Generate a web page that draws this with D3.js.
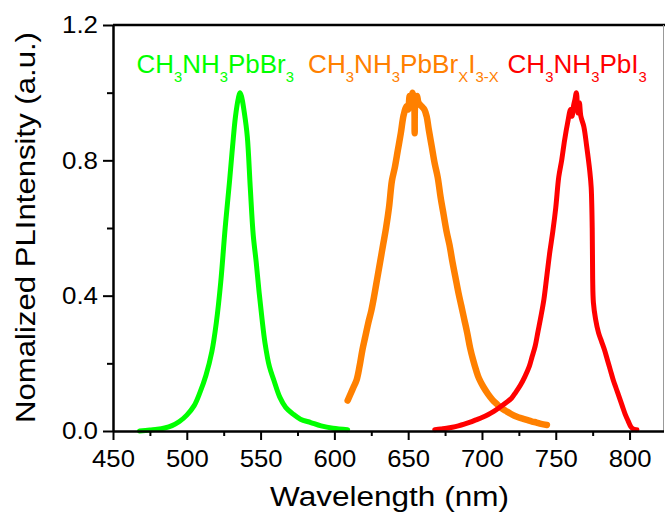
<!DOCTYPE html>
<html>
<head>
<meta charset="utf-8">
<script src="https://cdn.jsdelivr.net/npm/d3@7"></script>
<style>
  body { margin: 0; background: #fff; }
  svg { display: block; }
  text { font-family: "Liberation Sans", Arial, Helvetica, sans-serif; }
</style>
</head>
<body>
<svg id="chart" width="665" height="518"></svg>
<script>
// Normalized photoluminescence spectra of three perovskite films
const xMajorTicks = [450, 500, 550, 600, 650, 700, 750, 800];
const xMinorTicks = [475, 525, 575, 625, 675, 725, 775];
const yMajorTicks = [0, 0.4, 0.8, 1.2];
const yMinorTicks = [0.2, 0.6, 1.0];

// [wavelength (nm), normalized intensity]
const bromideSpectrum = [
  [468,0.0],[475,0.003],[480,0.005],[485,0.009],[490,0.016],[495,0.028],[500,0.047],
  [505,0.075],[509,0.115],[513,0.165],[517,0.235],[520,0.32],[523,0.44],[526,0.60],
  [529,0.74],[531,0.84],[533,0.93],[535,0.985],[536,1.0],[537,0.99],[539,0.94],
  [541,0.87],[543,0.72],[545,0.58],[547,0.50],[549,0.41],[551,0.33],[553,0.26],
  [556,0.19],[559,0.15],[563,0.10],[567,0.07],[572,0.05],[577,0.035],[584,0.025],
  [591,0.015],[599,0.008],[609,0.004]
];
const mixedSpectrum = [
  [609,0.09],[611,0.11],[613,0.13],[615,0.15],[617,0.19],[619,0.24],[621,0.28],
  [623,0.32],[625,0.355],[627,0.40],[629,0.45],[631,0.50],[633,0.55],[635,0.60],
  [637,0.66],[639,0.74],[641,0.78],[643,0.83],[645,0.88],[647,0.935],[649,0.96],
  [650,0.95],[651,0.99],[652,0.97],[653,1.0],[654,0.98],[654.4,0.88],[654.8,0.97],
  [656,0.99],[657,0.97],[659,0.96],[661,0.95],[662.5,0.93],[664,0.89],[666,0.84],
  [668,0.79],[670,0.75],[672,0.69],[674,0.64],[676,0.59],[678,0.55],[680,0.50],
  [682,0.455],[684,0.41],[686,0.37],[688,0.33],[690,0.29],[692,0.245],[694,0.21],
  [696,0.18],[698,0.155],[701,0.13],[704,0.11],[707,0.093],[710,0.08],[713,0.068],
  [716,0.06],[719,0.052],[722,0.045],[725,0.04],[728,0.036],[731,0.032],[734,0.028],
  [737,0.025],[740,0.021],[744,0.018]
];
const iodideSpectrum = [
  [668,0.004],[672,0.006],[676,0.008],[680,0.011],[684,0.015],[688,0.02],[692,0.026],
  [696,0.033],[700,0.04],[704,0.048],[708,0.058],[712,0.07],[716,0.083],[720,0.097],
  [723,0.115],[726,0.135],[729,0.16],[732,0.19],[734,0.22],[736,0.25],[738,0.295],
  [740,0.34],[742,0.39],[744,0.46],[746,0.53],[748,0.59],[750,0.66],[752,0.75],
  [754,0.80],[756,0.86],[758,0.91],[760,0.95],[761,0.93],[762,0.96],[763,0.98],
  [764,1.0],[765,0.94],[766,0.97],[767,0.93],[769,0.90],[771,0.84],[773,0.77],
  [774,0.72],[774.7,0.60],[775,0.45],[775.5,0.38],[777,0.33],[779,0.29],[781,0.265],
  [783,0.24],[785,0.21],[787,0.18],[789,0.15],[791,0.125],[793,0.10],[795,0.075],
  [797,0.05],[799,0.03],[801,0.012],[803,0.005],[805,0.004]
];

const seriesColors = ["#00ff00", "#ff8000", "#ff0000"];
const seriesWidths = [5, 6.5, 5];

// Sample labels: [text, isSubscript] pieces
const bromideLabel = [["CH",0],["3",1],["NH",0],["3",1],["PbBr",0],["3",1]];
const mixedLabel = [["CH",0],["3",1],["NH",0],["3",1],["PbBr",0],["X",1],["I",0],["3-X",1]];
const iodideLabel = [["CH",0],["3",1],["NH",0],["3",1],["PbI",0],["3",1]];

const xTitle = "Wavelength (nm)";
const yTitle = "Nomalized PLIntensity (a.u.)";

const svg = d3.select("#chart");
const x = d3.scaleLinear().domain([450, 823]).range([113, 663.5]);
const y = d3.scaleLinear().domain([0, 1.2]).range([431, 25]);

// Stretch a text node horizontally about its anchor so it spans a given width
function fitWidth(node, targetW, anchor) {
  const b = node.getBBox();
  const s = targetW / b.width;
  const ax = anchor === "start" ? b.x : anchor === "end" ? b.x + b.width : b.x + b.width / 2;
  node.setAttribute("transform", `translate(${ax},0) scale(${s},1) translate(${-ax},0)`);
}

// Frame: top border and light right border
svg.append("line").attr("x1", 113).attr("x2", 665).attr("y1", 25).attr("y2", 25)
  .attr("stroke", "#000").attr("stroke-width", 2.5);
svg.append("line").attr("x1", 663.5).attr("x2", 663.5).attr("y1", 25).attr("y2", 431)
  .attr("stroke", "#999").attr("stroke-width", 1);

// Spectra
const line = d3.line().x(d => x(d[0])).y(d => y(d[1])).curve(d3.curveCatmullRom.alpha(0.5));
[bromideSpectrum, mixedSpectrum, iodideSpectrum].forEach((data, i) => {
  svg.append("path").datum(data)
    .attr("d", line)
    .attr("fill", "none")
    .attr("stroke", seriesColors[i])
    .attr("stroke-width", seriesWidths[i])
    .attr("stroke-linejoin", "round")
    .attr("stroke-linecap", "round");
});

// Bottom axis
const gx = svg.append("g").attr("transform", "translate(0,431)")
  .call(d3.axisBottom(x).tickValues(xMajorTicks).tickSize(9).tickSizeOuter(0)
    .tickPadding(10).tickFormat(d3.format("d")));
svg.append("g").attr("transform", "translate(0,431)")
  .call(d3.axisBottom(x).tickValues(xMinorTicks).tickSize(5).tickSizeOuter(0).tickFormat(""))
  .call(g => g.select(".domain").remove());

// Left axis
const gy = svg.append("g").attr("transform", "translate(113,0)")
  .call(d3.axisLeft(y).tickValues(yMajorTicks).tickSize(10).tickSizeOuter(0)
    .tickPadding(5).tickFormat(d3.format(".1f")));
svg.append("g").attr("transform", "translate(113,0)")
  .call(d3.axisLeft(y).tickValues(yMinorTicks).tickSize(6).tickSizeOuter(0).tickFormat(""))
  .call(g => g.select(".domain").remove());

svg.selectAll(".domain").attr("stroke", "#000").attr("stroke-width", 2.5);
svg.selectAll(".tick line").attr("stroke", "#000").attr("stroke-width", 2);
svg.selectAll(".tick text").attr("font-size", 24).attr("fill", "#000")
  .attr("font-family", "'Liberation Sans', Arial, sans-serif");
gx.selectAll(".tick text").each(function () { fitWidth(this, this.getBBox().width * 1.07, "middle"); });
gy.selectAll(".tick text").each(function () { fitWidth(this, this.getBBox().width * 1.08, "end"); });

// Axis titles
const xt = svg.append("text").attr("x", 389.5).attr("y", 506.5)
  .attr("text-anchor", "middle").attr("font-size", 28).attr("fill", "#000").text(xTitle);
fitWidth(xt.node(), 239, "middle");

svg.append("text")
  .attr("transform", "translate(35,227.5) rotate(-90)")
  .attr("text-anchor", "middle").attr("font-size", 27.5).attr("fill", "#000")
  .attr("textLength", 391).attr("lengthAdjust", "spacingAndGlyphs")
  .text(yTitle);

// Sample labels with subscripts
function drawLabel(parts, x0, baseline, color, width) {
  const t = svg.append("text").attr("x", x0).attr("y", baseline)
    .attr("fill", color).attr("font-size", 25.5);
  let sub = false;
  parts.forEach(([s, isSub]) => {
    const ts = t.append("tspan").text(s);
    if (isSub && !sub) ts.attr("dy", 8.5).attr("font-size", 14.5);
    else if (isSub) ts.attr("font-size", 14.5);
    else if (sub) ts.attr("dy", -8.5);
    sub = !!isSub;
  });
  fitWidth(t.node(), width, "start");
}
drawLabel(bromideLabel, 136.5, 73.3, seriesColors[0], 157.5);
drawLabel(mixedLabel, 308, 73.3, seriesColors[1], 191);
drawLabel(iodideLabel, 507.5, 73.3, seriesColors[2], 139.5);
</script>
</body>
</html>
